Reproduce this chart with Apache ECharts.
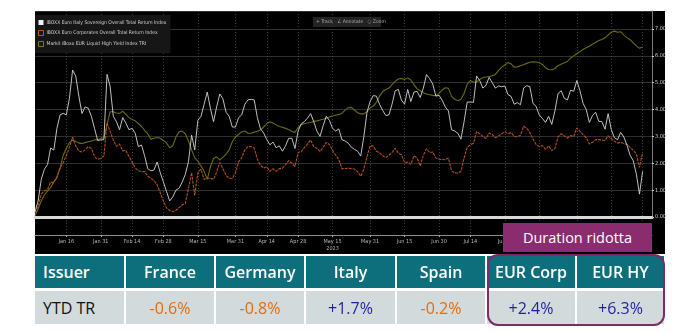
<!DOCTYPE html>
<html>
<head>
<meta charset="utf-8">
<script src="https://cdn.jsdelivr.net/npm/echarts@6/dist/echarts.min.js"></script>
<style>
  html, body { margin: 0; padding: 0; background: #fff; }
  #wrap { position: relative; width: 679px; height: 332px; overflow: hidden; font-family: 'Open Sans', sans-serif; }
  #panel { position: absolute; left: 35px; top: 11px; width: 630px; height: 243px; background: #000; }
  #chart { position: absolute; left: 0; top: 0; width: 679px; height: 332px; }
  .cell { position: absolute; box-sizing: border-box; display: flex; align-items: center; justify-content: center; font-size: 16px; white-space: nowrap; }
  .head { background: #0e6f7c; color: #fff; font-weight: 600; }
  .val { background: #d2dadc; }
  .first { justify-content: flex-start; padding-left: 8px; }
  #tag { position: absolute; left: 503px; top: 223px; width: 149px; height: 29px; background: #8b2c6e; color: #fff;
         display: flex; align-items: center; justify-content: center; font-size: 14.5px; }
  #ring { position: absolute; left: 487px; top: 254px; width: 178px; height: 72px; box-sizing: border-box;
          border: 2px solid #7e2a68; border-radius: 11px; }
</style>
</head>
<body>
<div id="wrap">
  <div id="panel"></div>
  <div id="chart"></div>
  <div id="table"></div>
  <div id="ring"></div>
  <div id="tag">Duration ridotta</div>
</div>
<script>
// Series names (legend)
const seriesNames = [
  'IBOXX Euro Italy Sovereign Overall Total Return Index',
  'IBOXX Euro Corporates Overall Total Return Index',
  'Markit iBoxx EUR Liquid High Yield Index TRI'
];

// Date-axis labels
const tickDates = ['2023-01-16','2023-01-31','2023-02-14','2023-02-28','2023-03-15','2023-03-31','2023-04-14','2023-04-28',
  '2023-05-15','2023-05-31','2023-06-15','2023-06-30','2023-07-14','2023-07-31','2023-08-15','2023-08-31','2023-09-15','2023-09-29'];
const tickLabels = ['Jan 16','Jan 31','Feb 14','Feb 28','Mar 15','Mar 31','Apr 14','Apr 28',
  'May 15','May 31','Jun 15','Jun 30','Jul 14','Jul 31','Aug 15','Aug 31','Sep 15','Sep 29'];
const yearLabelDate = '2023-05-15';
const yearLabel = '2023';

// Y-axis ticks (YTD total return, %)
const yTicks = [0, 1, 2, 3, 4, 5, 6, 7];

// Cumulative YTD total return, one value per trading session from 2 Jan 2023
const italy = [
  0.2,0.6,1.4,1.78,1.95,2.57,2.49,3.3,3.8,3.86,3.8,4.42,5.47,5.25,4.5,3.85,4.1,4.05,3.75,3.3,
  2.85,2.87,2.88,5.31,4.85,3.75,3.55,3.25,3.7,3.5,3.25,3.3,3.12,2.62,2.68,2.28,1.8,1.72,1.75,2.05,
  1.65,1.3,0.95,0.6,0.75,1.0,1.07,1.3,1.59,2.06,3.05,2.5,3.6,3.75,4.2,4.65,4.05,3.55,4.1,4.58,
  4.4,3.9,3.75,3.35,3.35,3.7,3.8,4.2,4.36,4.38,4.36,3.7,3.28,3.13,2.88,2.69,2.79,2.58,2.65,2.45,
  2.65,2.93,2.93,2.55,3.2,3.47,3.55,3.68,3.85,3.55,3.2,3.0,3.4,3.75,3.6,3.3,3.2,3.28,2.88,2.83,
  2.75,2.6,2.52,2.45,2.27,3.0,3.9,4.3,4.52,4.5,4.2,3.97,3.78,3.8,4.2,4.7,4.75,4.35,4.2,4.75,
  4.3,4.65,4.68,4.45,4.8,5.3,5.15,4.95,4.5,4.53,4.35,4.1,3.95,3.25,3.2,3.12,2.9,3.55,4.28,4.28,
  4.27,5.25,5.08,4.8,4.9,5.2,5.0,4.8,4.88,4.85,4.88,4.56,4.49,4.2,4.26,4.18,4.8,4.89,4.85,4.23,
  4.12,3.8,3.67,3.52,3.75,3.45,3.95,4.6,4.7,4.42,4.36,4.72,4.68,5.08,4.7,4.23,4.0,3.52,3.78,3.9,
  3.56,3.55,3.27,3.85,3.25,2.95,2.88,3.15,2.98,2.68,2.3,2.1,1.6,0.85,1.7
];
const eurCorp = [
  0.15,0.4,0.85,0.97,1.03,1.3,1.28,1.5,1.83,2.02,2.28,2.6,2.97,2.65,2.45,2.42,2.5,2.62,2.55,2.25,
  2.15,2.18,2.28,3.5,3.18,2.87,2.63,2.72,2.46,2.48,2.25,2.05,1.83,1.72,1.69,1.69,1.52,1.45,1.35,1.2,
  0.9,0.6,0.33,0.24,0.2,0.25,0.35,0.45,0.5,1.07,1.65,0.8,1.65,1.78,1.4,1.45,1.44,1.4,1.67,2.03,
  1.8,1.55,1.44,1.44,1.65,2.05,2.21,2.5,2.62,2.62,2.56,2.15,1.93,1.82,1.87,1.7,1.8,1.7,1.8,1.82,
  1.95,2.1,2.0,1.88,2.4,2.43,2.58,2.72,2.87,2.62,2.56,2.44,2.6,2.78,2.7,2.48,2.3,2.14,1.8,1.8,
  1.82,1.8,1.79,1.69,1.52,1.78,2.25,2.65,2.64,2.45,2.4,2.28,2.21,2.3,2.4,2.56,2.38,2.32,2.02,2.05,
  1.96,2.28,2.2,1.9,2.3,2.54,2.4,2.42,2.2,2.15,2.14,2.13,2.2,1.72,1.64,1.64,1.7,2.2,2.6,2.69,
  2.75,3.18,3.1,3.0,2.92,3.13,3.07,2.95,3.02,3.1,3.17,3.1,3.14,3.0,2.99,3.04,3.38,3.3,3.15,2.9,
  2.7,2.62,2.66,2.52,2.65,2.47,2.55,2.98,3.1,3.02,2.94,3.03,3.0,3.32,3.2,3.06,2.95,2.72,2.78,2.88,
  2.88,2.87,2.85,3.02,2.92,2.82,2.75,2.78,2.74,2.7,2.6,2.48,2.35,1.85,2.4
];
const eurHY = [
  0.05,0.3,0.6,0.82,0.97,1.09,1.32,1.46,1.81,2.3,2.55,2.77,2.86,2.82,2.75,2.74,2.77,2.8,2.83,2.87,
  2.88,2.92,2.95,3.45,3.92,3.92,3.87,3.86,3.94,3.82,3.7,3.63,3.58,3.48,3.38,3.22,3.1,2.9,2.93,2.96,
  2.93,2.85,2.75,2.58,2.65,2.98,3.17,3.2,3.1,2.82,2.5,2.2,2.08,1.9,1.7,1.4,1.87,2.18,2.24,2.13,
  2.22,2.34,2.5,2.8,2.98,3.08,3.17,3.2,3.12,3.12,3.16,3.19,3.25,3.35,3.48,3.55,3.5,3.43,3.37,3.34,
  3.3,3.26,3.18,3.15,3.33,3.43,3.48,3.5,3.52,3.56,3.58,3.61,3.64,3.68,3.72,3.76,3.8,3.81,3.86,3.98,
  4.07,4.08,3.98,3.88,3.84,3.84,3.92,4.06,4.13,4.27,4.5,4.67,4.75,4.8,4.93,5.05,5.14,5.16,5.12,5.18,
  5.1,4.93,4.77,4.7,4.63,4.58,4.55,4.53,4.52,4.6,4.73,4.81,4.79,4.5,4.38,4.33,4.38,4.6,4.95,5.08,
  5.02,5.03,5.12,5.19,5.21,5.23,5.26,5.31,5.46,5.58,5.66,5.75,5.7,5.58,5.59,5.63,5.67,5.72,5.76,5.78,
  5.77,5.74,5.68,5.56,5.49,5.48,5.53,5.64,5.69,5.74,5.79,5.92,6.0,6.08,6.15,6.25,6.3,6.36,6.43,6.5,
  6.57,6.61,6.67,6.78,6.88,6.92,6.88,6.9,6.77,6.68,6.6,6.48,6.37,6.28,6.33
];

// Summary table
const tableHeaders = ['Issuer', 'France', 'Germany', 'Italy', 'Spain', 'EUR Corp', 'EUR HY'];
const tableValues  = ['YTD TR', '-0.6%', '-0.8%', '+1.7%', '-0.2%', '+2.4%', '+6.3%'];

// Trading sessions (weekdays) shown on the date axis
const sessions = [];
(function () {
  let t = Date.UTC(2023, 0, 2);
  const end = Date.UTC(2023, 9, 4);
  while (t <= end) {
    const d = new Date(t);
    const w = d.getUTCDay();
    if (w > 0 && w < 6) sessions.push(d.toISOString().slice(0, 10));
    t += 86400000;
  }
})();

const narrow = "'Liberation Sans Narrow', 'Arial Narrow', 'DejaVu Sans Condensed', sans-serif";
const isTick = (i, v) => tickDates.indexOf(v) >= 0;
const yMax = yTicks[yTicks.length - 1] + 0.67;

const chart = echarts.init(document.getElementById('chart'), null, { renderer: 'canvas' });
chart.setOption({
  animation: false,
  backgroundColor: 'transparent',
  grid: [
    { left: 35, right: 27, top: 11, bottom: 115 },
    { left: 35, right: 27, top: 220, height: 15 }
  ],
  xAxis: [
    {
      type: 'category', gridIndex: 0, data: sessions, boundaryGap: false,
      axisLine: { show: true, lineStyle: { color: '#d8d8d8', width: 3 } },
      axisTick: { show: false }, axisLabel: { show: false },
      splitLine: { show: true, interval: isTick, lineStyle: { color: '#3c3c3c', type: [1, 2] } }
    },
    {
      type: 'category', gridIndex: 1, data: sessions, boundaryGap: false,
      axisLine: { show: true, lineStyle: { color: '#8c8c8c', width: 1 } },
      axisTick: { show: true, interval: isTick, length: 2, lineStyle: { color: '#aaa' } },
      axisLabel: {
        show: true, interval: isTick, color: '#b8b8b8', fontSize: 5.5, fontFamily: narrow, margin: 3, lineHeight: 7,
        formatter: v => {
          const k = tickDates.indexOf(v);
          if (k < 0) return '';
          return v === yearLabelDate ? tickLabels[k] + '\n' + yearLabel : tickLabels[k];
        }
      },
      splitLine: { show: true, interval: isTick, lineStyle: { color: '#3c3c3c', type: [1, 2] } }
    }
  ],
  yAxis: [
    {
      type: 'value', gridIndex: 0, position: 'right', min: yTicks[0], max: yMax, interval: 1,
      axisLine: { show: true, lineStyle: { color: '#7a7a7a' } },
      axisTick: { show: true, length: 2, lineStyle: { color: '#d0d0d0' } },
      axisLabel: { showMaxLabel: false, color: '#cfcfcf', fontSize: 5.5, fontFamily: narrow, margin: 3,
                   formatter: v => (Number.isInteger(v) ? v.toFixed(2) : '') },
      splitLine: { show: true, lineStyle: { color: '#303030', width: 1 } }
    },
    { type: 'value', gridIndex: 1, show: false, splitLine: { show: false } }
  ],
  legend: {
    left: 35, top: 15, orient: 'vertical', backgroundColor: '#161616',
    padding: [5, 4, 6, 3], itemGap: 5, itemWidth: 5, itemHeight: 5, icon: 'rect',
    textStyle: { color: '#cfcfcf', fontSize: 5, fontFamily: narrow, padding: [0, 0, 0, -2] },
    data: [
      { name: seriesNames[0], itemStyle: { color: '#f2f2f2' } },
      { name: seriesNames[1], itemStyle: { color: '#161616', borderColor: '#c0561a', borderWidth: 1 } },
      { name: seriesNames[2], itemStyle: { color: '#161616', borderColor: '#7a7a10', borderWidth: 1 } }
    ]
  },
  graphic: [
    {
      type: 'group', left: 313, top: 17,
      children: [
        { type: 'rect', shape: { x: 0, y: 0, width: 68, height: 10 }, style: { fill: '#232323' } },
        { type: 'text', x: 3, y: 2.5, style: { text: '+ Track   \u2220 Annotate   \u25cb Zoom', fill: '#a8a8a8', fontSize: 5, fontFamily: narrow } }
      ]
    }
  ],
  series: [
    { name: seriesNames[0], type: 'line', xAxisIndex: 0, yAxisIndex: 0, data: italy, showSymbol: false, z: 4,
      lineStyle: { color: '#d4d4d4', width: 0.9 }, itemStyle: { color: '#d4d4d4' } },
    { name: seriesNames[1], type: 'line', xAxisIndex: 0, yAxisIndex: 0, data: eurCorp, showSymbol: false, z: 3,
      lineStyle: { color: '#b3501a', width: 1.1, type: [3, 1] }, itemStyle: { color: '#b3501a' } },
    { name: seriesNames[2], type: 'line', xAxisIndex: 0, yAxisIndex: 0, data: eurHY, showSymbol: false, z: 2,
      lineStyle: { color: '#6c6c0c', width: 1.1 }, itemStyle: { color: '#6c6c0c' } }
  ]
});

// Summary table below the chart
(function () {
  const edges = [35, 125, 215, 305, 396, 486, 576, 665];
  const rows = [
    { top: 256, height: 32, texts: tableHeaders, cls: 'head' },
    { top: 291, height: 33, texts: tableValues, cls: 'val' }
  ];
  const holder = document.getElementById('table');
  rows.forEach(r => {
    r.texts.forEach((t, i) => {
      const c = document.createElement('div');
      c.className = 'cell ' + r.cls + (i === 0 ? ' first' : '');
      const l = edges[i] + (i === 0 ? 0 : 1);
      const w = edges[i + 1] - l - 1;
      c.style.left = l + 'px';
      c.style.top = r.top + 'px';
      c.style.width = w + 'px';
      c.style.height = r.height + 'px';
      c.textContent = t;
      if (r.cls === 'val') {
        if (i === 0) c.style.color = '#111';
        else c.style.color = t.charAt(0) === '-' ? '#e46c0a' : '#1f1f9c';
      }
      holder.appendChild(c);
    });
  });
})();
</script>
</body>
</html>
